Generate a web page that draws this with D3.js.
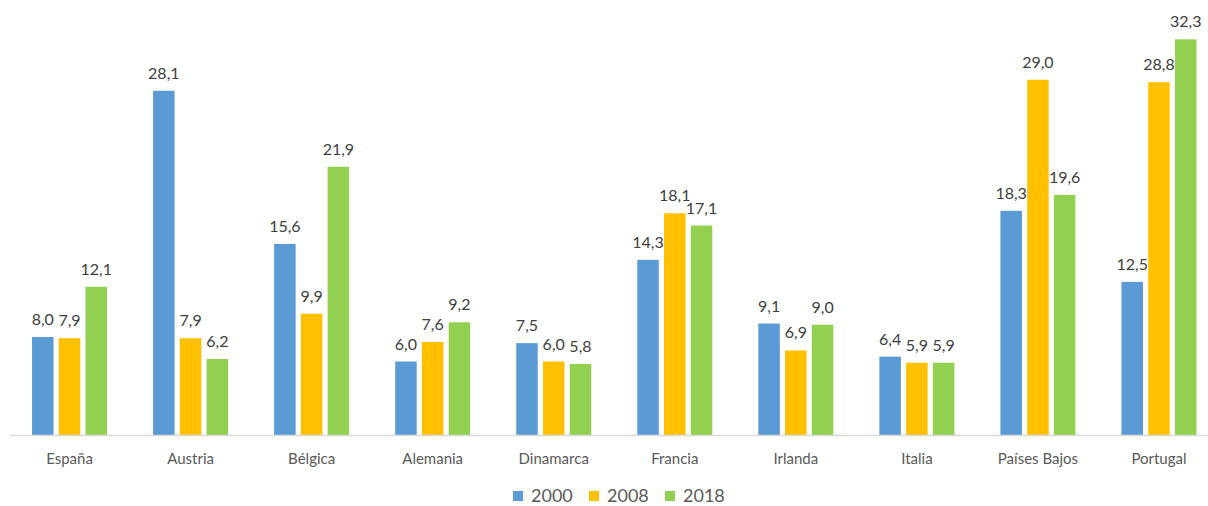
<!DOCTYPE html>
<html>
<head>
<meta charset="utf-8">
<script src="https://cdn.jsdelivr.net/npm/d3@7"></script>
<style>
  html, body { margin: 0; padding: 0; background: #fff; }
  svg { display: block; font-family: Lato, "Open Sans", sans-serif; }
</style>
</head>
<body>
<svg id="chart" width="1208" height="506"></svg>
<script>
// Countries along the x axis
const categories = ["España", "Austria", "Bélgica", "Alemania", "Dinamarca",
                    "Francia", "Irlanda", "Italia", "Países Bajos", "Portugal"];
// Series (years)
const seriesNames = ["2000", "2008", "2018"];
const values2000 = [8.0, 28.1, 15.6, 6.0, 7.5, 14.3, 9.1, 6.4, 18.3, 12.5];
const values2008 = [7.9, 7.9, 9.9, 7.6, 6.0, 18.1, 6.9, 5.9, 29.0, 28.8];
const values2018 = [12.1, 6.2, 21.9, 9.2, 5.8, 17.1, 9.0, 5.9, 19.6, 32.3];
const seriesColors = ["#5B9BD5", "#FFC000", "#92D050"];

const seriesValues = [values2000, values2008, values2018];
const svg = d3.select("#chart");

const baseY = 435;
const x = d3.scaleBand().domain(categories).range([9, 1219.5]).padding(0);
const inner = d3.scaleBand().domain(seriesNames)
  .range([-40.125, 40.125]).paddingInner(0.196).paddingOuter(0.098);
const y = d3.scaleLinear().domain([0, 35]).range([baseY, baseY - 35 * 12.25]);

const fmt = v => v.toFixed(1).replace(".", ",");

// Bars and value labels
seriesNames.forEach((s, si) => {
  const g = svg.append("g");
  const data = categories.map((c, i) => ({ c, v: seriesValues[si][i] }));
  g.selectAll("rect").data(data).join("rect")
    .attr("x", d => x(d.c) + x.bandwidth() / 2 + inner(s))
    .attr("y", d => y(d.v))
    .attr("width", inner.bandwidth())
    .attr("height", d => y(0) - y(d.v))
    .attr("fill", seriesColors[si]);
  g.selectAll("text").data(data).join("text")
    .attr("x", d => x(d.c) + x.bandwidth() / 2 + inner(s) + inner.bandwidth() / 2)
    .attr("y", d => y(d.v) - 12)
    .attr("text-anchor", "middle")
    .attr("font-size", 16)
    .attr("fill", "#404040")
    .text(d => fmt(d.v));
});

// Category axis
const xAxis = d3.axisBottom(x).tickSize(0).tickPadding(0);
const ax = svg.append("g").attr("transform", `translate(0,${baseY})`).call(xAxis);
ax.select(".domain").attr("stroke", "#D9D9D9").attr("stroke-width", 1.5);
ax.selectAll("text")
  .attr("y", 29).attr("dy", null)
  .attr("font-size", 15)
  .attr("font-family", "Lato, 'Open Sans', sans-serif")
  .attr("fill", "#595959");

// Legend
const legendX = [513, 589, 665];
const legend = svg.append("g");
seriesNames.forEach((s, i) => {
  legend.append("rect")
    .attr("x", legendX[i]).attr("y", 491)
    .attr("width", 10).attr("height", 10)
    .attr("fill", seriesColors[i]);
  legend.append("text")
    .attr("x", legendX[i] + 18).attr("y", 502)
    .attr("font-size", 18)
    .attr("fill", "#595959")
    .text(s);
});
</script>
</body>
</html>
